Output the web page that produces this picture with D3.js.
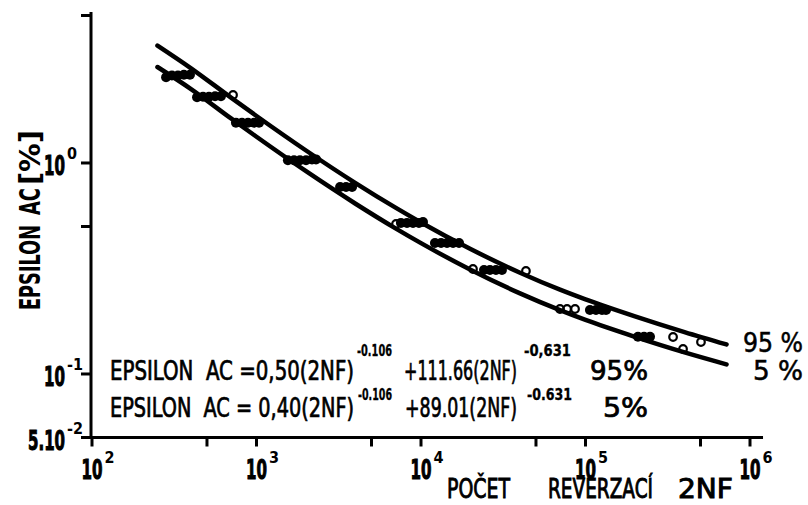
<!DOCTYPE html>
<html>
<head>
<meta charset="utf-8">
<script src="https://cdn.jsdelivr.net/npm/d3@7"></script>
<style>
  body { margin: 0; background: #fff; }
  text { font-family: 'Liberation Sans Narrow', 'DejaVu Sans Condensed', 'Liberation Sans', sans-serif; fill: #000; }
</style>
</head>
<body>
<div id="chart"></div>
<script>
// ********** DATA **********

// fitted curves, N = 2NF, eps = EPSILON AC [%]
const curveN   = [250, 400, 700, 1000, 2000, 4000, 7000, 1e4, 2e4, 4e4, 7e4, 1e5, 2e5, 4e5, 7.2e5];
const curve95  = [3.60, 2.81, 2.04, 1.67, 1.146, 0.803, 0.614, 0.5225, 0.391, 0.302, 0.251, 0.2258, 0.1876, 0.158, 0.138];
const curve5   = [2.85, 2.24, 1.626, 1.331, 0.914, 0.641, 0.490, 0.417, 0.312, 0.241, 0.2006, 0.1803, 0.1499, 0.1265, 0.111];

// measured points drawn as filled (overlapping) marks
const filledN   = [282, 306, 333, 362, 394,
                   435, 473, 514, 560, 608,
                   750, 816, 888, 966, 1036,
                   1552, 1690, 1837, 2000, 2175, 2300,
                   3222, 3503, 3810,
                   7550, 8220, 8940, 9720, 10280,
                   12160, 13240, 14390, 15660, 17030,
                   24150, 26250, 28560, 31060,
                   106400, 115800, 126000, 133300,
                   208400, 226900, 246700];
const filledEps = [2.55, 2.6, 2.6, 2.62, 2.62,
                   2.05, 2.06, 2.06, 2.07, 2.07,
                   1.55, 1.55, 1.55, 1.55, 1.55,
                   1.03, 1.03, 1.03, 1.03, 1.04, 1.04,
                   0.77, 0.77, 0.77,
                   0.52, 0.52, 0.52, 0.52, 0.525,
                   0.418, 0.418, 0.418, 0.418, 0.418,
                   0.311, 0.311, 0.311, 0.311,
                   0.201, 0.201, 0.201, 0.201,
                   0.15, 0.15, 0.15];

// measured points drawn as open circles
const openN   = [720, 7050, 20700, 43450, 69980, 77230, 86370, 340600, 391700, 503500];
const openEps = [2.10, 0.514, 0.3145, 0.3078, 0.2032, 0.2032, 0.2032, 0.1497, 0.1314, 0.1418];

// axes
const xTicksMajor = [1e2, 1e3, 1e4, 1e5, 1e6];
const xTicksMinor = [5e2, 5e3, 5e4, 5e5];
const xTickSup    = ['2', '3', '4', '5', '6'];
const yTicks      = [5, 1, 0.5, 0.1, 0.05];
const yLabelVals  = [1, 0.1, 0.05];
const yLabelBase  = ['10', '10', '5.10'];
const yLabelSup   = ['0', '-1', '-2'];

// ********** SETUP **********
const width = 808, height = 505;

const x = d3.scaleLog().domain([1e2, 1e6]).range([92, 750]);
const y = d3.scaleLog().domain([0.05, 5]).range([437.5, 15.5]);

const svg = d3.select('#chart').append('svg')
  .attr('width', width)
  .attr('height', height);

svg.append('rect').attr('width', width).attr('height', height).attr('fill', '#fff');

// ********** AXES **********
const x0 = x(1e2) - 1, y0 = y(0.05);

svg.append('line')
  .attr('x1', x0).attr('x2', x(1.2e6))
  .attr('y1', y0).attr('y2', y0)
  .attr('stroke', '#000').attr('stroke-width', 3);

svg.append('line')
  .attr('x1', x0).attr('x2', x0)
  .attr('y1', y0 + 1.5).attr('y2', y(5.2))
  .attr('stroke', '#000').attr('stroke-width', 3);

svg.selectAll('.xtick')
  .data(xTicksMajor.concat(xTicksMinor))
  .join('line')
  .attr('class', 'xtick')
  .attr('x1', d => x(d)).attr('x2', d => x(d))
  .attr('y1', y0).attr('y2', y0 + 9)
  .attr('stroke', '#000').attr('stroke-width', 3);

svg.selectAll('.ytick')
  .data(yTicks)
  .join('line')
  .attr('class', 'ytick')
  .attr('x1', x0 - 10).attr('x2', x0)
  .attr('y1', d => y(d)).attr('y2', d => y(d))
  .attr('stroke', '#000').attr('stroke-width', 3);

// power label: base number with a raised exponent, in one text element
function powerLabel(sel, base, baseW, sup) {
  sel.attr('font-weight', 'bold');
  sel.append('tspan')
    .attr('font-size', 26)
    .attr('stroke', '#000').attr('stroke-width', 1)
    .attr('textLength', baseW).attr('lengthAdjust', 'spacingAndGlyphs')
    .text(base);
  sel.append('tspan')
    .attr('font-size', 16)
    .attr('dx', 2).attr('dy', -16)
    .text(sup);
}

// x tick labels 10^n
svg.selectAll('.xlab')
  .data(xTicksMajor)
  .join('text')
  .attr('class', 'xlab')
  .attr('x', d => x(d) - 10.5)
  .attr('y', y0 + 41)
  .each(function(d, i) { powerLabel(d3.select(this), '10', 21, xTickSup[i]); });

// y tick labels
svg.selectAll('.ylab')
  .data(yLabelVals)
  .join('text')
  .attr('class', 'ylab')
  .attr('x', (d, i) => x0 - 26 - (yLabelBase[i].length > 2 ? 37 : 21))
  .attr('y', d => y(d) + 12)
  .each(function(d, i) {
    powerLabel(d3.select(this), yLabelBase[i], yLabelBase[i].length > 2 ? 37 : 21, yLabelSup[i]);
  });

// y axis title (rotated)
const yTitle = svg.append('text')
  .attr('transform', 'translate(40,310) rotate(-90)')
  .attr('font-size', 29).attr('font-weight', 'bold');
[['EPSILON', 0, 85], ['AC', 95, 27], ['[%]', 125, 55]].forEach(p => {
  yTitle.append('tspan')
    .attr('x', p[1])
    .attr('textLength', p[2]).attr('lengthAdjust', 'spacingAndGlyphs')
    .text(p[0]);
});

// x axis title
const xTitle = svg.append('text')
  .attr('y', 498)
  .attr('font-size', 27)
  .attr('stroke', '#000').attr('stroke-width', 0.9);
[['POČET', 447, 63], ['REVERZACÍ', 548, 105], ['2NF', 678, 55]].forEach(p => {
  xTitle.append('tspan')
    .attr('x', p[1])
    .attr('textLength', p[2]).attr('lengthAdjust', 'spacingAndGlyphs')
    .text(p[0]);
});

// ********** CURVES **********
const line = d3.line()
  .x(d => x(d[0]))
  .y(d => y(d[1]))
  .curve(d3.curveMonotoneX);

[curve95, curve5].forEach(c => {
  svg.append('path')
    .datum(curveN.map((n, i) => [n, c[i]]))
    .attr('d', line)
    .attr('fill', 'none')
    .attr('stroke', '#000')
    .attr('stroke-width', 4.5)
    .attr('stroke-linecap', 'round');
});

// ********** POINTS **********
svg.selectAll('.pt-filled')
  .data(filledN.map((n, i) => [n, filledEps[i]]))
  .join('circle')
  .attr('class', 'pt-filled')
  .attr('cx', d => x(d[0]))
  .attr('cy', d => y(d[1]))
  .attr('r', 5)
  .attr('fill', '#000');

svg.selectAll('.pt-open')
  .data(openN.map((n, i) => [n, openEps[i]]))
  .join('circle')
  .attr('class', 'pt-open')
  .attr('cx', d => x(d[0]))
  .attr('cy', d => y(d[1]))
  .attr('r', 3.8)
  .attr('fill', 'none')
  .attr('stroke', '#000')
  .attr('stroke-width', 2.2);

// ********** LABELS **********
[['95 %', 743, 352, 60], ['5 %', 753, 380, 50]].forEach(p => {
  svg.append('text')
    .attr('x', p[1]).attr('y', p[2])
    .attr('font-size', 27)
    .attr('stroke', '#000').attr('stroke-width', 0.5)
    .attr('textLength', p[3]).attr('lengthAdjust', 'spacingAndGlyphs')
    .text(p[0]);
});

// equations, one text per line: [text, x, raise, width, small?]
const eqLines = [
  [380, [
    ['EPSILON  AC =0,50(2NF)', 110, 0, 244, false],
    ['-0.106', 357, 24, 35, true],
    ['+111.66(2NF)', 404, 0, 113, false],
    ['-0,631', 524, 24, 47, true],
    ['95%', 590, 0, 58, false]]],
  [417, [
    ['EPSILON  AC = 0,40(2NF)', 110, 0, 244, false],
    ['-0.106', 358, 17, 34, true],
    ['+89.01(2NF)', 405, 0, 112, false],
    ['-0.631', 527, 17, 45, true],
    ['5%', 603, 0, 45, false]]]
];

eqLines.forEach(ln => {
  const t = svg.append('text').style('white-space', 'pre');
  ln[1].forEach(p => {
    t.append('tspan')
      .attr('x', p[1]).attr('y', ln[0] - p[2])
      .attr('font-size', p[4] ? 15 : 26)
      .attr('font-weight', p[4] ? 'bold' : 'normal')
      .attr('stroke', '#000').attr('stroke-width', p[4] ? 0.3 : 0.7)
      .attr('textLength', p[3]).attr('lengthAdjust', 'spacingAndGlyphs')
      .text(p[0]);
  });
});
</script>
</body>
</html>
